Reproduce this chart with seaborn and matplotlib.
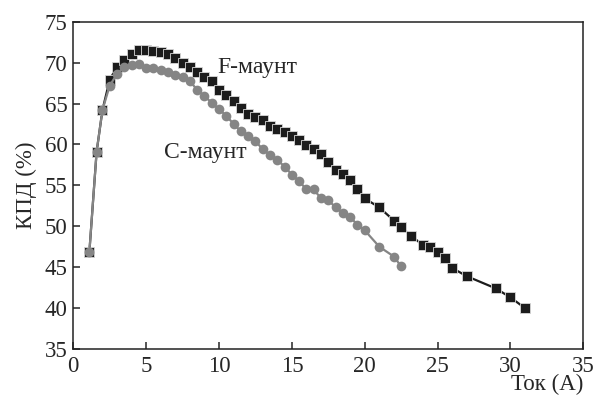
import numpy as np
import pandas as pd
import seaborn as sns
import matplotlib as mpt
import matplotlib.pyplot as plt

mpt.use('Agg')
sns.set_style('ticks')
plt.rcParams['font.family'] = ['Liberation Serif', 'DejaVu Serif']

# F-маунт (чёрные квадраты)
f_current = [1.1, 1.6, 2.0, 2.5, 3.0, 3.5, 4.0, 4.5, 5.0, 5.5, 6.0, 6.5, 7.0, 7.5,
             8.0, 8.5, 9.0, 9.5, 10.0, 10.5, 11.0, 11.5, 12.0, 12.5, 13.0, 13.5,
             14.0, 14.5, 15.0, 15.5, 16.0, 16.5, 17.0, 17.5, 18.0, 18.5, 19.0,
             19.5, 20.0, 21.0, 22.0, 22.5, 23.2, 24.0, 24.5, 25.0, 25.5, 26.0,
             27.0, 29.0, 30.0, 31.0]
f_eff = [46.8, 59.1, 64.2, 67.9, 69.5, 70.3, 71.1, 71.6, 71.6, 71.4, 71.3, 71.1,
         70.6, 70.0, 69.5, 68.9, 68.3, 67.7, 66.7, 66.0, 65.3, 64.5, 63.7, 63.3,
         63.0, 62.3, 61.9, 61.5, 61.0, 60.5, 59.9, 59.4, 58.8, 57.8, 56.9, 56.4,
         55.7, 54.6, 53.4, 52.3, 50.7, 49.9, 48.8, 47.7, 47.5, 46.8, 46.1, 44.9,
         43.9, 42.4, 41.3, 40.0]

# C-маунт (серые кружки)
c_current = [1.1, 1.6, 2.0, 2.5, 3.0, 3.5, 4.0, 4.5, 5.0, 5.5, 6.0, 6.5, 7.0, 7.5,
             8.0, 8.5, 9.0, 9.5, 10.0, 10.5, 11.0, 11.5, 12.0, 12.5, 13.0, 13.5,
             14.0, 14.5, 15.0, 15.5, 16.0, 16.5, 17.0, 17.5, 18.0, 18.5, 19.0,
             19.5, 20.0, 21.0, 22.0, 22.5]
c_eff = [46.8, 59.1, 64.2, 67.2, 68.6, 69.5, 69.7, 69.8, 69.4, 69.3, 69.1, 68.8,
         68.5, 68.2, 67.7, 66.7, 65.9, 65.1, 64.3, 63.5, 62.5, 61.6, 61.0, 60.4,
         59.4, 58.7, 58.1, 57.3, 56.3, 55.5, 54.5, 54.5, 53.4, 53.2, 52.3, 51.6,
         51.1, 50.2, 49.5, 47.5, 46.3, 45.1]

f_df = pd.DataFrame({'I': f_current, 'eta': f_eff})
c_df = pd.DataFrame({'I': c_current, 'eta': c_eff})

fig = plt.figure(figsize=(5.94, 3.98), dpi=100)
ax = fig.add_axes([0.1234, 0.1231, 0.8586, 0.8224])

sns.lineplot(data=f_df, x='I', y='eta', sort=False, ax=ax, color='#1c1c1c',
             linewidth=1.6, marker='s', markersize=7, markeredgecolor='#d8d8d8',
             markeredgewidth=0.6, markerfacecolor='#1c1c1c')
sns.lineplot(data=c_df, x='I', y='eta', sort=False, ax=ax, color='#858585',
             linewidth=1.6, marker='o', markersize=7, markeredgewidth=0,
             markerfacecolor='#858585')

ax.text(9.9, 69.4, 'F-маунт', fontsize=17, va='center', ha='left')
ax.text(6.2, 59.0, 'C-маунт', fontsize=17, va='center', ha='left')

ax.set_xlim(0, 35)
ax.set_ylim(35, 75)
ax.set_xticks(np.arange(0, 36, 5))
ax.set_yticks(np.arange(35, 76, 5))
ax.tick_params(direction='in', length=5, width=1.1, labelsize=16.5)
ax.tick_params(axis='x', pad=5)
ax.tick_params(axis='y', pad=4)
for s in ax.spines.values():
    s.set_linewidth(1.1)
    s.set_color('#222222')

ax.set_xlabel('Ток (А)', fontsize=16.5, loc='right', labelpad=-2)
ax.set_ylabel('КПД (%)', fontsize=16.5, labelpad=6)

plt.savefig('out.png', dpi=100)
